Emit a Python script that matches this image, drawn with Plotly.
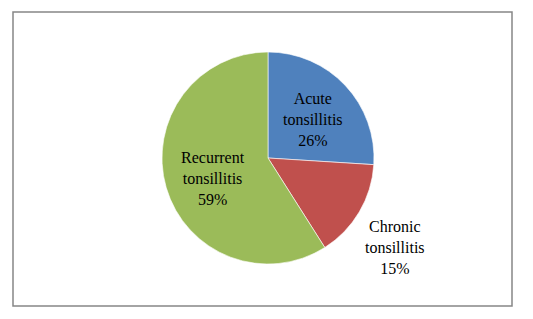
import plotly.graph_objects as go

categories = ["Acute tonsillitis", "Chronic tonsillitis", "Recurrent tonsillitis"]
values = [26, 15, 59]
label_lines = ["Acute<br>tonsillitis", "Chronic<br>tonsillitis", "Recurrent<br>tonsillitis"]
colors = ["#4F81BD", "#C0504D", "#9BBB59"]

W, H = 533, 319
FONT = "Times New Roman, Liberation Serif, serif"
total = sum(values)
pct = [f"{round(v / total * 100)}%" for v in values]
texts = [f"{l}<br>{p}" for l, p in zip(label_lines, pct)]

# label centre positions in pixels (layout only)
label_pos = [(313, 119), (395, 248), (213, 178)]

fig = go.Figure()
fig.add_trace(go.Pie(
    labels=categories,
    values=values,
    textinfo="none",
    sort=False,
    direction="clockwise",
    rotation=0,
    marker=dict(colors=colors, line=dict(color="white", width=0.6)),
    domain=dict(x=[162 / W, 374 / W], y=[(H - 264) / H, (H - 52) / H]),
    showlegend=False,
    hoverinfo="label+percent",
))

for t, (px, py) in zip(texts, label_pos):
    fig.add_annotation(
        x=px / W, y=1 - py / H, xref="paper", yref="paper",
        xanchor="center", yanchor="middle",
        text=t, showarrow=False,
        font=dict(family=FONT, size=16, color="black"),
        align="center",
    )

fig.add_shape(
    type="rect", xref="paper", yref="paper",
    x0=13 / W, x1=512 / W, y0=1 - 306 / H, y1=1 - 12 / H,
    line=dict(color="#868686", width=1.5), fillcolor="rgba(0,0,0,0)",
)

fig.update_layout(
    width=W, height=H,
    margin=dict(l=0, r=0, t=0, b=0),
    paper_bgcolor="white",
    plot_bgcolor="white",
    font=dict(family=FONT),
)

fig.write_html("out.html", config={"displayModeBar": False},
               post_script="document.body.style.margin='0';")
